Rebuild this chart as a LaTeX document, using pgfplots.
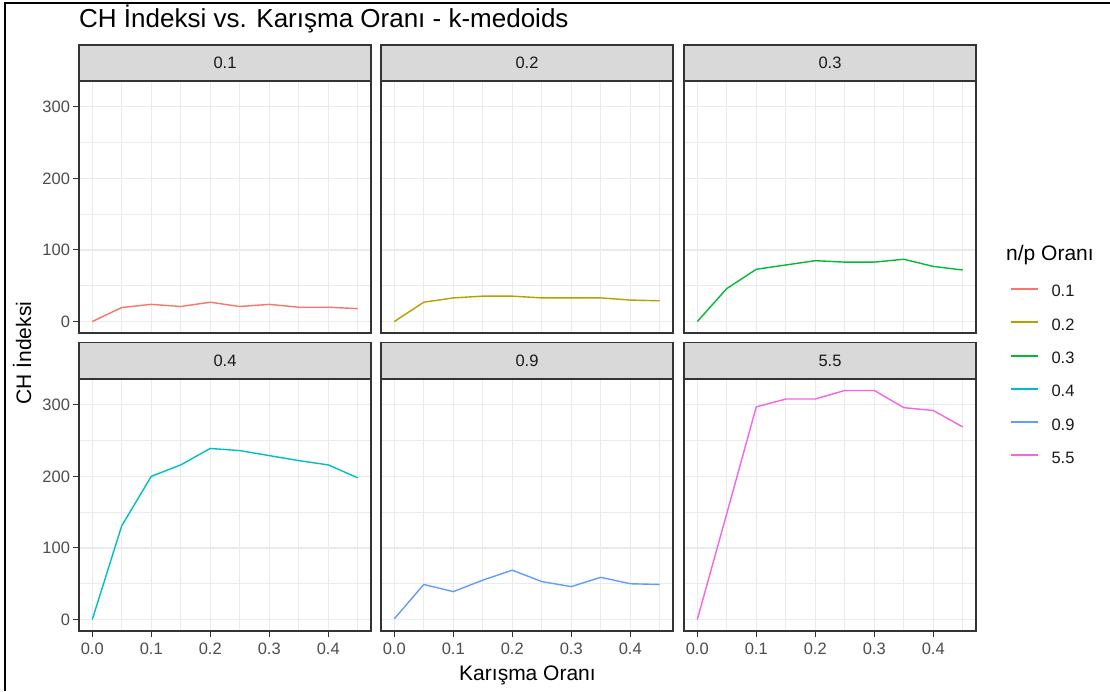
\documentclass[border=0pt]{standalone}
\usepackage{pgfplots}
\pgfplotsset{compat=1.18}
\usepackage{fontspec}
\setmainfont{Liberation Sans}
\definecolor{c1}{HTML}{F8766D}
\definecolor{c2}{HTML}{B79F00}
\definecolor{c3}{HTML}{00BA38}
\definecolor{c4}{HTML}{00BFC4}
\definecolor{c5}{HTML}{619CFF}
\definecolor{c6}{HTML}{F564E3}
\definecolor{gridc}{HTML}{EBEBEB}
\definecolor{framec}{HTML}{333333}
\definecolor{stripc}{HTML}{D9D9D9}
\definecolor{tickc}{HTML}{4D4D4D}
\definecolor{stxt}{HTML}{1A1A1A}
\newcommand{\tfont}{\fontsize{16.5}{19}\selectfont}
\newcommand{\lfont}{\fontsize{21}{24}\selectfont}
\pgfplotsset{
  facet/.style={
    scale only axis, width=292pt, height=252pt,
    anchor=south west,
    xmin=-0.0225, xmax=0.4725, ymin=-16, ymax=336,
    xtick={0,0.1,0.2,0.3,0.4}, ytick={0,100,200,300},
    minor xtick={0.05,0.15,0.25,0.35,0.45}, minor ytick={50,150,250},
    grid=both,
    major grid style={draw=gridc, line width=1.1pt},
    minor grid style={draw=gridc, line width=0.6pt},
    axis line style={draw=framec, line width=1.3pt},
    major tick style={draw=framec, line width=1pt},
    major tick length=5.5pt, minor tick length=0pt,
    tick align=outside, xtick pos=bottom, ytick pos=left,
    tick label style={font=\tfont, text=tickc},
    /pgf/number format/assume math mode=true,
    xticklabel style={/pgf/number format/fixed, /pgf/number format/fixed zerofill, /pgf/number format/precision=1, yshift=-3pt},
    every axis plot/.append style={line width=1.4pt, mark=none},
  },
  nox/.style={xticklabels={}, major x tick style={draw=none}},
  noy/.style={yticklabels={}, major y tick style={draw=none}},
}
\begin{document}
\begin{tikzpicture}[x=1pt,y=1pt]
\path[use as bounding box] (0,0) rectangle (1110,691);
\fill[white] (0,0) rectangle (1110,691);
\draw[black, line width=1.5pt] (5,0) -- (5,688) -- (1110,688);
% Row 1
\begin{axis}[facet, nox, name=p1, at={(79pt,358pt)}]
\addplot[c1] coordinates {(0,0) (0.05,19.6) (0.1,24) (0.15,21) (0.2,27) (0.25,21) (0.3,24) (0.35,20) (0.4,20) (0.45,18)};
\end{axis}
\begin{axis}[facet, nox, noy, name=p2, at={(381pt,358pt)}]
\addplot[c2] coordinates {(0,0) (0.05,27) (0.1,33) (0.15,35.5) (0.2,35.5) (0.25,33) (0.3,33) (0.35,33) (0.4,30) (0.45,29)};
\end{axis}
\begin{axis}[facet, nox, noy, name=p3, at={(684pt,358pt)}]
\addplot[c3] coordinates {(0,0) (0.05,46) (0.1,73) (0.15,79) (0.2,85) (0.25,83) (0.3,83) (0.35,87) (0.4,77) (0.45,72)};
\end{axis}
% Row 2
\begin{axis}[facet, name=p4, at={(79pt,60pt)}]
\addplot[c4] coordinates {(0,0) (0.05,131) (0.1,200) (0.15,216) (0.2,239) (0.25,236) (0.3,229) (0.35,222) (0.4,216) (0.45,198)};
\end{axis}
\begin{axis}[facet, noy, name=p5, at={(381pt,60pt)}]
\addplot[c5] coordinates {(0,1) (0.05,49) (0.1,39) (0.15,55) (0.2,69) (0.25,53) (0.3,46) (0.35,59) (0.4,50) (0.45,49)};
\end{axis}
\begin{axis}[facet, noy, name=p6, at={(684pt,60pt)},
  legend style={at={(1.114,1.374)}, anchor=north west, draw=none, fill=none,
    inner sep=0pt, row sep=17.3pt,
    nodes={inner sep=0pt, text height=12pt, text depth=4pt, font=\tfont, text=stxt},
    /tikz/every odd column/.append style={column sep=13pt}},
  legend cell align=left,
  legend image code/.code={\draw[#1, line width=2pt] (0pt,4pt) -- (27pt,4pt);},
  legend entries={0.1,0.2,0.3,0.4,0.9,5.5}]
\addplot[c6, forget plot] coordinates {(0,0) (0.05,148) (0.1,297) (0.15,308) (0.2,308) (0.25,320) (0.3,320) (0.35,296) (0.4,292) (0.45,269)};
\addlegendimage{c1}
\addlegendimage{c2}
\addlegendimage{c3}
\addlegendimage{c4}
\addlegendimage{c5}
\addlegendimage{c6}
\end{axis}
% strips
\foreach \p/\t/\h in {p1/0.1/36, p2/0.2/36, p3/0.3/36, p4/0.4/36.5, p5/0.9/36.5, p6/5.5/36.5}{
  \draw[fill=stripc, draw=framec, line width=1.3pt] (\p.north west) rectangle ([yshift=\h pt]\p.north east);
  \node[font=\tfont, text=stxt] at ([yshift=\h pt/2]\p.north) {\t};
}
% titles
\node[anchor=base west, font=\fontsize{26}{29}\selectfont, inner sep=0pt] at (79,663.5) {CH İndeksi vs. Karışma Oranı - k-medoids};
\node[anchor=base, font=\lfont] at (527.5,11) {Karışma Oranı};
\node[rotate=90, font=\lfont] at (22,338) {CH İndeksi};
\node[anchor=base west, font=\lfont, inner sep=0pt] at (1006,430.3) {n/p Oranı};
\end{tikzpicture}
\end{document}
